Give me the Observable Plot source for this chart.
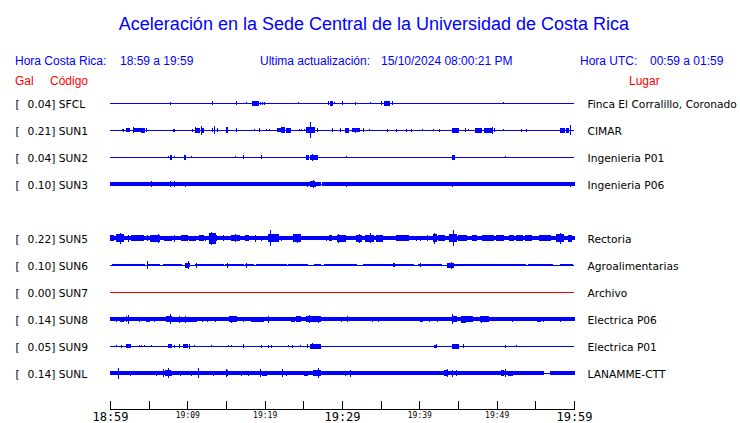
<!DOCTYPE html>
<html><head><meta charset="utf-8">
<script src="https://cdn.jsdelivr.net/npm/d3@7"></script>
<script src="https://cdn.jsdelivr.net/npm/@observablehq/plot@0.6"></script>
<style>
body{margin:0;background:#fff;}
#wrap{position:relative;width:740px;height:423px;overflow:hidden;background:#fff}
#hdr{position:absolute;left:0;top:0;width:740px;height:90px;font-family:"Liberation Sans",Arial,sans-serif;}
.t{position:absolute;white-space:pre;line-height:1;}
#chart{position:absolute;left:0;top:90px;}
</style></head><body>
<div id="wrap"><div id="hdr"></div><div id="chart"></div></div>
<script>
// ---- text ----
const titleText = "Aceleración en la Sede Central de la Universidad de Costa Rica";
const headerLeft = ["Hora Costa Rica:", "18:59 a 19:59"];
const headerMid = ["Ultima actualización:", "15/10/2024 08:00:21 PM"];
const headerRight = ["Hora UTC:", "00:59 a 01:59"];
const colHeadsLeft = ["Gal", "Código"];
const colHeadRight = "Lugar";

// ---- stations ----
const slotOrder = ["SFCL","SUN1","SUN2","SUN3","SUN4","SUN5","SUN6","SUN7","SUN8","SUN9","SUNL"];
const stationCodes = ["SFCL","SUN1","SUN2","SUN3","SUN5","SUN6","SUN7","SUN8","SUN9","SUNL"];
const stationPlaces = ["Finca El Corralillo, Coronado","CIMAR","Ingenieria P01","Ingenieria P06","Rectoria","Agroalimentarias","Archivo","Electrica P06","Electrica P01","LANAMME-CTT"];
const galValues = [0.04,0.21,0.04,0.10,0.22,0.10,0.00,0.14,0.05,0.14];

// ---- time axis (minutes after 18:59) ----
const tickMinutes = [0,5,10,15,20,25,30,35,40,45,50,55,60];
const labelMinutes = [0,10,20,30,40,50,60];
const timeLabels = ["18:59","19:09","19:19","19:29","19:39","19:49","19:59"];
const majorLabels = ["18:59","19:29","19:59"];

// ---- trace envelopes: [start minute, end minute, half amplitude] ----
const traceSFCL = [[7.8,7.8,1.5],[13.2,13.2,2],[16.3,16.3,2],[17.6,17.6,1],[18.4,19.2,2.5],[19.5,19.5,1.5],[19.7,19.7,1.5],[20.0,20.0,1.5],[24.4,24.4,1],[28.2,28.2,2],[28.5,28.8,2.5],[29.0,29.0,1],[30.0,30.0,2],[31.7,31.7,1.5],[33.7,33.7,1],[35.1,35.1,2],[35.5,36.1,2.5],[36.5,36.5,2],[50.9,50.9,1]];
const traceSUN1 = [[1.6,1.6,1],[1.8,1.8,1.5],[2.1,2.5,2],[3.0,3.0,3],[3.2,4.0,2],[4.1,4.4,2.5],[4.7,4.7,2],[8.2,8.2,1.5],[8.4,8.4,1.5],[10.7,10.7,1.5],[11.0,11.0,3],[11.2,11.6,2.5],[11.8,11.8,4.5],[11.9,12.1,2.5],[13.2,13.2,2],[13.5,13.5,3.7],[13.9,13.9,2],[15.1,15.2,3],[16.3,16.3,2],[18.7,18.7,1],[19.3,19.3,2],[20.3,20.3,1],[20.6,20.6,1],[21.6,22.2,2],[22.2,22.6,3],[22.8,23.4,2.5],[24.5,24.5,1],[24.8,24.8,1],[25.1,25.1,1],[25.4,25.8,3],[25.9,25.9,8],[26.0,26.4,3],[26.8,26.8,2],[28.8,28.8,2],[29.8,29.8,2],[30.4,30.9,2.5],[31.3,32.3,2],[31.7,31.7,2.5],[32.8,32.8,2],[33.5,33.5,1],[35.9,35.9,1.5],[37.1,37.1,1.5],[38.4,38.4,1.5],[39.0,39.0,1.5],[40.4,40.4,1],[41.8,41.8,1],[42.6,42.6,1.5],[44.3,45.0,2.5],[46.0,46.0,2],[46.4,46.4,1],[47.3,48.1,2.5],[48.4,49.4,2.5],[49.4,49.4,3.5],[49.7,49.7,2],[50.9,50.9,1],[53.2,53.2,1.5],[53.8,53.8,1.5],[58.3,58.8,2.5],[59.0,59.3,2.5],[59.5,59.5,5]];
const traceSUN2 = [[7.5,7.5,1],[7.8,8.0,2.5],[8.4,8.4,1],[9.6,9.8,2.5],[10.6,10.6,1],[16.2,16.2,1],[17.2,17.2,2],[19.6,19.6,2],[25.4,25.7,2.5],[25.9,26.8,2.5],[26.2,26.2,3.5],[30.6,30.6,1],[44.3,44.6,2.5],[51.2,51.2,1]];
const traceSUN3 = [[0,27.2,1.7],[27.5,60,1.7],[5.4,5.4,3],[7.8,7.8,3],[8.4,8.4,3],[9.8,9.8,2.5],[25.6,25.6,2.5],[25.9,26.4,3],[26.3,26.3,4.3],[26.6,26.6,2.5],[30.6,30.6,2.5],[44.3,44.3,2.5],[59.5,59.5,2.5]];
const traceSUN5 = [[0,60,2],[0.1,0.4,3],[0.9,1.8,4],[1.3,1.3,5.5],[2.4,2.4,3.5],[2.8,4.3,3],[4.8,4.8,3],[5.2,6.4,3.5],[6.3,6.3,4.5],[7.1,8.0,2.5],[8.4,8.4,3.5],[9.3,10.0,3],[10.3,11.0,2.5],[11.6,12.1,3],[12.4,12.4,2.5],[12.9,13.6,5.5],[13.1,13.1,6.5],[13.8,13.8,3],[14.7,14.7,3],[15.7,16.8,3],[16.2,16.2,4],[17.5,17.9,3],[18.8,18.8,3.5],[19.6,19.6,2.5],[20.5,21.8,4],[20.8,20.8,8],[22.2,22.2,2.5],[23.7,24.6,4],[24.2,24.2,4.5],[28.0,28.0,2.5],[28.4,28.6,3],[29.4,30.5,3.5],[29.6,29.6,4.5],[31.9,32.5,3.5],[32.2,32.2,4.5],[33.0,34.1,3.5],[33.7,33.7,5],[34.5,35.3,3.5],[37.1,38.6,3],[39.6,39.6,2.5],[40.1,40.1,2.5],[41.0,41.0,3],[41.8,42.2,4],[41.9,41.9,5.5],[42.5,43.3,3],[43.9,44.8,4],[44.4,44.4,8],[45.0,46.1,3],[46.9,47.4,3],[48.2,49.6,3],[50.0,50.9,3],[51.7,52.2,3],[52.6,53.4,3],[53.7,54.5,3],[55.5,56.9,3],[57.8,58.6,4],[58.3,58.3,5.5],[59.3,59.7,3.5]];
const traceSUN6 = [[0.3,3.0,1.3],[3.2,4.5,1.3],[5.0,6.4,1.3],[6.9,9.3,1.3],[11.0,14.7,1.3],[14.9,17.2,1.3],[17.5,18.5,1.3],[19.0,22.8,1.3],[23.1,25.6,1.3],[26.5,27.2,1.3],[27.8,31.9,1.3],[32.8,39.2,1.3],[39.9,42.9,1.3],[43.7,53.7,1.3],[54.1,57.2,1.3],[58.3,59.8,1.3],[4.8,4.8,4],[9.7,10.0,2.5],[10.2,10.2,4],[10.3,10.3,2],[11.2,11.2,2.5],[15.2,15.2,2.5],[17.7,17.7,2.5],[36.6,36.8,2],[40.2,40.2,2],[43.7,44.4,2.5],[44.1,44.1,3.5]];
const traceSUN7 = [];
const traceSUN8 = [[0,60,1.8],[0.8,0.8,2.5],[1.4,1.7,2.5],[2.1,2.1,3],[2.4,2.4,4.5],[3.8,3.8,2.5],[4.7,5.1,2.5],[5.8,5.8,2.5],[7.3,8.0,3],[7.8,7.8,5],[8.1,11.2,2.5],[9.0,9.0,3.5],[9.7,9.7,3.5],[11.9,11.9,2.5],[12.6,12.6,2.5],[13.6,13.6,2.5],[15.5,16.4,3],[15.7,15.7,3.5],[17.2,17.2,2.5],[18.3,19.8,2.5],[20.5,20.5,3.5],[23.5,23.9,2.5],[24.1,24.6,3],[25.4,27.2,3],[25.8,25.8,4],[27.0,27.0,3.5],[29.9,29.9,2.5],[30.7,30.7,3],[32.1,32.1,2],[33.3,33.3,2],[34.0,34.0,2.5],[34.7,34.7,2.5],[37.6,37.6,2],[40.1,40.4,2.5],[41.3,41.3,2.5],[42.3,42.3,2.5],[44.3,44.3,5],[44.4,44.8,3],[45.5,46.0,3.5],[46.0,46.9,3],[47.9,48.9,3],[48.1,48.1,3.5],[50.8,50.8,2],[52.1,52.1,2.5],[55.3,55.7,2.5],[56.1,56.1,2.5],[58.3,58.3,2.5],[59.1,59.1,2],[59.6,59.6,2]];
const traceSUN9 = [[0.9,0.9,1],[1.5,1.5,1.5],[2.1,2.6,2],[3.8,3.8,1],[4.1,4.1,1],[4.4,4.4,1],[5.4,5.4,1],[7.5,8.0,2],[8.4,8.4,1.5],[9.0,9.0,2],[9.5,10.0,2],[10.3,10.3,2.5],[10.9,10.9,1],[13.1,13.1,1],[15.3,15.3,1],[15.7,15.7,1],[17.2,17.2,2],[19.6,19.6,1.5],[20.5,20.5,1.5],[20.9,20.9,1.5],[23.1,23.1,1],[23.6,23.6,1.5],[24.6,24.6,1],[25.5,25.5,2],[25.9,27.2,2.5],[26.2,26.2,3],[41.9,42.2,1.5],[42.2,42.2,2],[44.3,45.0,2.5],[45.7,45.7,2],[51.2,51.2,1.5],[52.5,52.5,1]];
const traceSUNL = [[0,56.0,1.8],[57.0,60,1.8],[1.1,1.1,5.5],[1.3,2.4,2],[2.7,2.7,2.5],[5.0,5.8,2.2],[6.0,6.0,2.5],[6.9,6.9,4],[7.2,7.8,3],[7.5,7.5,5],[8.0,8.0,2.5],[9.1,9.1,2.5],[10.6,10.6,2.5],[11.4,11.4,5],[13.4,13.4,2.5],[15.0,15.2,3],[15.1,15.1,4],[17.0,17.0,2.5],[17.9,17.9,2.5],[19.5,19.5,4],[19.7,20.3,2.5],[22.3,22.3,4],[22.8,22.8,2.5],[24.1,24.1,2],[25.1,25.6,2.5],[26.3,27.2,3],[27.0,27.0,5],[30.4,30.4,2.5],[31.1,31.1,3.5],[32.8,32.8,2],[33.6,33.6,2],[43.2,43.5,3],[43.7,43.7,4],[44.3,44.3,3.5],[44.8,44.8,3],[50.6,50.9,3],[51.2,51.2,4],[51.5,52.0,2.5],[52.4,52.4,2],[54.6,54.6,2],[54.7,54.7,2],[55.3,55.3,2],[55.9,55.9,2]];
const traceData = [traceSFCL,traceSUN1,traceSUN2,traceSUN3,traceSUN5,traceSUN6,traceSUN7,traceSUN8,traceSUN9,traceSUNL];

// ---- build ----
const BLUE = "#0000ff", RED = "#ff0000";
const table = stationCodes.map((code,i)=>({code, place: stationPlaces[i], gal: galValues[i], row: slotOrder.indexOf(code)}));
const bursts = [];
table.forEach((s,i)=>{ for (const [t0,t1,a] of traceData[i]) bursts.push({row:s.row, t0, t1, a}); });
const PX = 1/27; // amplitude unit -> row units
const ticksTable = labelMinutes.map((m,i)=>({m, label: timeLabels[i], major: majorLabels.includes(timeLabels[i])}));

// header
const hdr = document.getElementById("hdr");
function addText(txt, left, top, size, color, extra){
  const s = document.createElement("span");
  s.className = "t"; s.textContent = txt;
  s.style.left = left+"px"; s.style.top = top+"px"; s.style.fontSize = size+"px"; s.style.color = color;
  if (extra) Object.assign(s.style, extra);
  hdr.appendChild(s); return s;
}
addText(titleText, 0, 14.5, 18, BLUE, {width:"740px", textAlign:"center", left:"4px"});
addText(headerLeft[0], 15, 55, 12, BLUE); addText(headerLeft[1], 120, 55, 12, BLUE);
addText(headerMid[0], 260, 55, 12, BLUE); addText(headerMid[1], 381, 55, 12, BLUE);
addText(headerRight[0], 580, 55, 12, BLUE); addText(headerRight[1], 650, 55, 12, BLUE);
addText(colHeadsLeft[0], 15, 75, 12, RED); addText(colHeadsLeft[1], 50, 75, 12, RED);
addText(colHeadRight, 629, 75, 12, RED);

const lab = {fontFamily:"DejaVu Sans", fontSize:10.67, fill:"#000", lineAnchor:"bottom", dy:4};
const chart = Plot.plot({
  width: 740, height: 333,
  marginLeft: 110, marginRight: 166, marginTop: 0, marginBottom: 14,
  style: {background:"#fff"},
  x: {domain:[0,60], axis:null},
  y: {domain:[0,10], range:[13,283], axis:null},
  color: {type:"identity"},
  marks: [
    Plot.ruleY(table, {y:"row", stroke: d => d.gal === 0 ? RED : BLUE, strokeWidth:1, shapeRendering:"crispEdges"}),
    Plot.rect(bursts, {x1:"t0", x2:"t1", y1: d => d.row - d.a*PX, y2: d => d.row + d.a*PX, fill: BLUE, insetLeft:-0.5, insetRight:-0.5, shapeRendering:"crispEdges"}),
    Plot.text(table, {...lab, y:"row", text: () => "[", frameAnchor:"left", textAnchor:"start", dx:-95}),
    Plot.text(table, {...lab, y:"row", text: d => d.gal.toFixed(2)+"]", frameAnchor:"left", textAnchor:"end", dx:-55}),
    Plot.text(table, {...lab, y:"row", text: "code", frameAnchor:"left", textAnchor:"start", dx:-51.7}),
    Plot.text(table, {...lab, y:"row", text: "place", frameAnchor:"right", textAnchor:"start", dx:13}),
    Plot.frame({anchor:"bottom", stroke:"#000", shapeRendering:"crispEdges"}),
    Plot.ruleX(tickMinutes, {x: d => d, insetTop: 311, stroke:"#000", shapeRendering:"crispEdges"}),
    Plot.text(ticksTable.filter(d=>d.major), {x:"m", text:"label", frameAnchor:"bottom", lineAnchor:"bottom", dy:11, fontFamily:"DejaVu Sans Mono", fontSize:12, fill:"#000"}),
    Plot.text(ticksTable.filter(d=>!d.major), {x:"m", text:"label", frameAnchor:"bottom", lineAnchor:"bottom", dy:8, fontFamily:"DejaVu Sans Mono", fontSize:8, fill:"#000"})
  ]
});
document.getElementById("chart").appendChild(chart);
</script>
</body></html>
